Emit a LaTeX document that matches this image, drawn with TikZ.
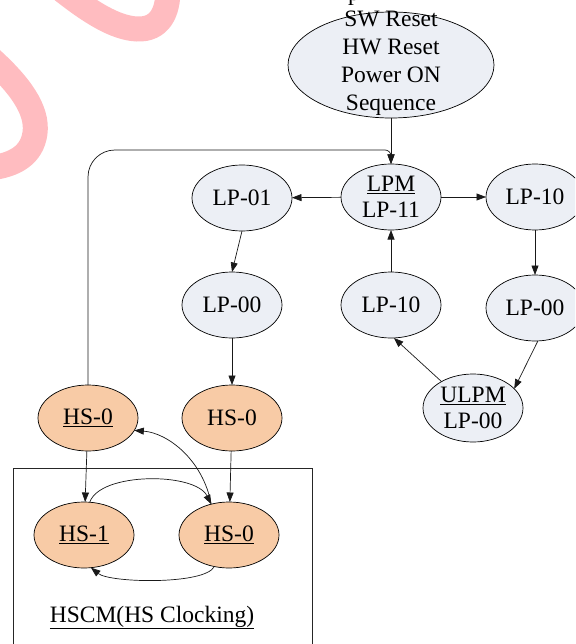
\documentclass[tikz,border=0pt]{standalone}
\usepackage{fontspec}
\setmainfont{Liberation Serif}
\usetikzlibrary{shapes.geometric,arrows.meta}
\definecolor{lpfill}{HTML}{ECEFF5}
\definecolor{hsfill}{HTML}{F8CBA6}
\definecolor{markpink}{HTML}{FFBCC0}

\begin{document}
\begin{tikzpicture}[x=1pt,y=-1pt,
  txt/.style={font=\fontsize{23.5}{26.5}\selectfont},
  state/.style={ellipse, draw=black, line width=0.7pt, inner sep=0pt, outer sep=0pt,
    minimum width=100pt, minimum height=66pt, align=center, txt},
  lp/.style={state, fill=lpfill},
  hs/.style={state, fill=hsfill},
  link/.style={draw=black!90, line width=0.7pt, -{Triangle[length=9.5pt,width=7pt]}},
  stroke/.style={draw=markpink, line width=25pt, line cap=butt},
]
\useasboundingbox (0,0) rectangle (575,644);
\begin{scope}
\clip (0,0) rectangle (575,644);

% pink brush strokes
\draw[stroke] (62,-10) .. controls (90,12) and (115,28) .. (137,29)
              .. controls (160,30) and (168,12) .. (168,-10);
\draw[stroke] (-10,58) .. controls (20,85) and (38,110) .. (35,133)
              .. controls (32,155) and (15,165) .. (-10,168);

% text running off the top edge
\node[txt, anchor=base, inner sep=0pt] (cutoff) at (354,0.5) {p};

% states
\node[lp, minimum width=206pt, minimum height=106pt,
  label={[font=\fontsize{23.5}{28}\selectfont, align=center, yshift=1.5pt]center:SW Reset\\HW Reset\\Power ON\\Sequence}]
  (reset) at (391,65) {};
\node[lp] (lpm)   at (391,197) {\underline{LPM}\\LP-11};
\node[lp] (lp01)  at (242,198) {LP-01};
\node[lp, minimum width=98pt] (lp10r) at (535,197) {LP-10};
\node[lp] (lp00l) at (232,305) {LP-00};
\node[lp] (lp10m) at (391,305) {LP-10};
\node[lp, minimum width=98pt] (lp00r) at (535,308) {LP-00};
\node[lp, minimum height=68pt] (ulpm) at (473,408) {\underline{ULPM}\\LP-00};
\node[hs] (hs0a) at (88,418)  {\underline{HS-0}};
\node[hs] (hs0m) at (232,418) {HS-0};

% HS clocking group
\draw[line width=0.7pt, draw=black!85] (13,468) rectangle (312,660);
\node[hs] (hs1)  at (84,535)  {\underline{HS-1}};
\node[hs] (hs0b) at (229,535) {\underline{HS-0}};
\node[txt, anchor=base] (hscm) at (152,622) {\underline{HSCM(HS Clocking)}};

% transitions
\draw[link] (reset) -- (lpm);
\draw[link] (hs0a.north) -- (88,177) .. controls (88,162) and (100,150) .. (115,150)
            -- (385,150) .. controls (388.3,150) and (391,152.7) .. (391,156) -- (lpm.north);
\draw[link] (lpm) -- (lp01);
\draw[link] (lpm) -- (lp10r);
\draw[link] (lp01.south) -- (lp00l.north);
\draw[link] (lp10r) -- (lp00r);
\draw[link] (lp10m) -- (lpm);
\draw[link] (lp00r.-85) -- (ulpm.25);
\draw[link] (ulpm.140) -- (lp10m.-85);
\draw[link] (lp00l) -- (hs0m);
\draw[link] (hs0a) -- (hs1);
\draw[link] (hs0m) -- (hs0b);
\draw[link] (hs1.80) .. controls (100,472) and (195,472) .. (hs0b.120);
\draw[link] (hs0b.120) .. controls (203,460) and (168,433) .. (hs0a.-15);
\draw[link] (hs0b.-115) .. controls (205,585) and (110,583) .. (hs1.-78);
\end{scope}
\end{tikzpicture}
\end{document}
